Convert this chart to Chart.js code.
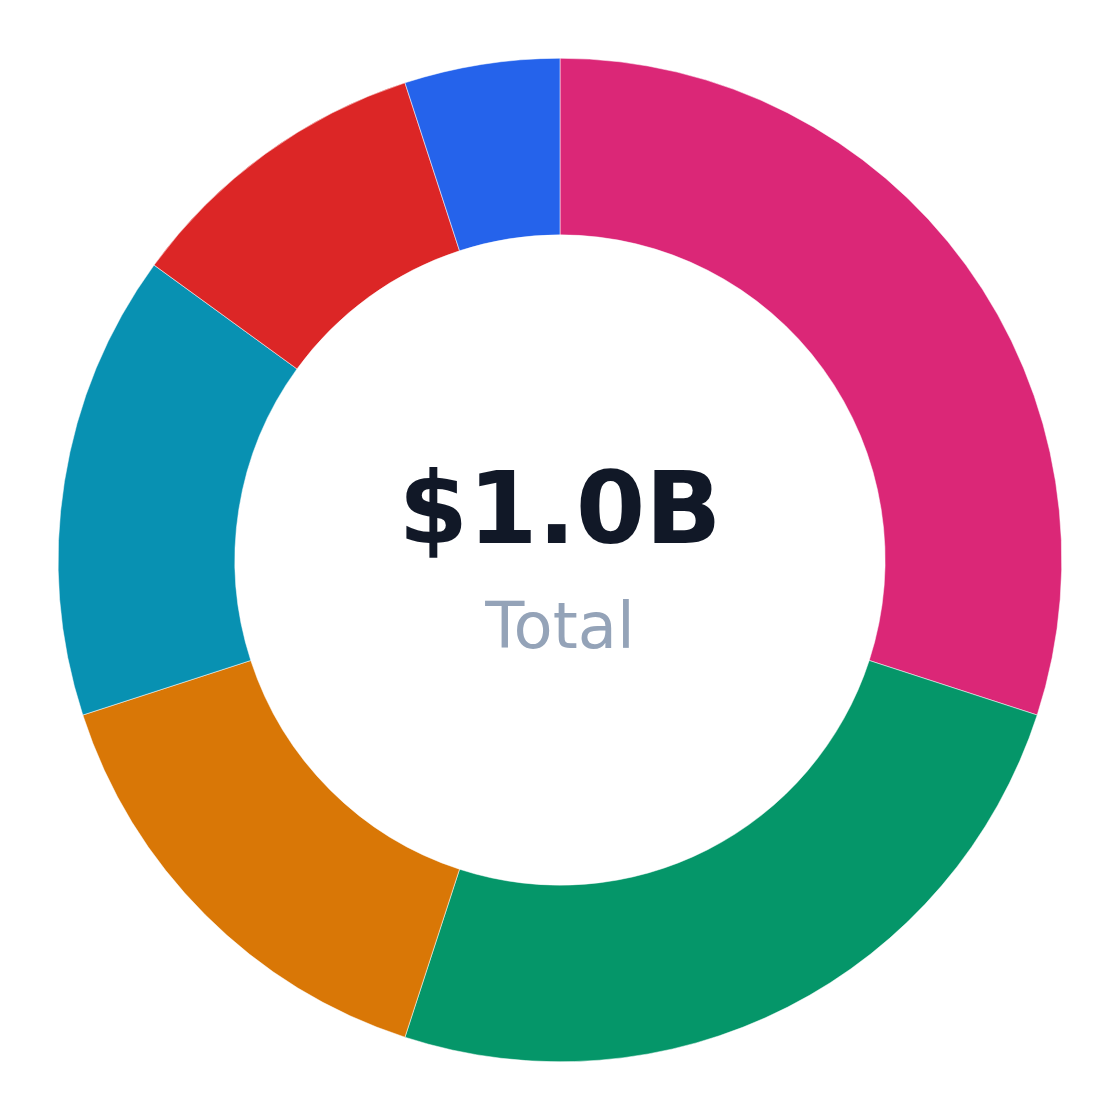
<!DOCTYPE html>
<html>
<head>
<meta charset="utf-8">
<script src="https://cdn.jsdelivr.net/npm/chart.js@4/dist/chart.umd.min.js"></script>
<style>
  html, body { margin: 0; padding: 0; background: #ffffff; }
  #wrap { width: 1120px; height: 1120px; }
</style>
</head>
<body>
<div id="wrap"><canvas id="myChart" width="1120" height="1120"></canvas></div>
<script>
const segmentLabels = ['Segment A', 'Segment B', 'Segment C', 'Segment D', 'Segment E', 'Segment F']
const segmentValues = [300, 250, 150, 150, 100, 50]   // millions
const segmentColors = ['#db2777', '#059669', '#d97706', '#0891b2', '#dc2626', '#2563eb']
const centerTitle = '$1.0B'
const centerSub = 'Total'

const centerText = {
    id: 'centerText',
    afterDraw(chart) {
        const ctx = chart.ctx
        const meta = chart.getDatasetMeta(0).data[0]
        const x = meta.x
        const y = meta.y
        ctx.save()
        ctx.textAlign = 'center'
        ctx.textBaseline = 'alphabetic'
        ctx.fillStyle = '#111827'
        ctx.font = 'bold 100px "DejaVu Sans"'
        ctx.fillText(centerTitle, x, y - 17)
        ctx.fillStyle = '#94a3b8'
        ctx.font = '64px "DejaVu Sans"'
        ctx.fillText(centerSub, x, y + 88)
        ctx.restore()
    }
}

function drawChart() {
    const ctx = document.getElementById('myChart')
    const data = {
        labels: segmentLabels,
        datasets: [{
            data: segmentValues,
            backgroundColor: segmentColors,
            borderColor: '#ffffff',
            borderWidth: 0.5
        }]
    }
    const config = {
        type: 'doughnut',
        data: data,
        options: {
            responsive: false,
            animation: false,
            cutout: '64.8%',
            layout: { padding: 58 },
            plugins: {
                legend: { display: false },
                tooltip: { enabled: false }
            }
        },
        plugins: [centerText]
    }
    new Chart(ctx, config)
}

document.addEventListener('DOMContentLoaded', drawChart)
</script>
</body>
</html>
